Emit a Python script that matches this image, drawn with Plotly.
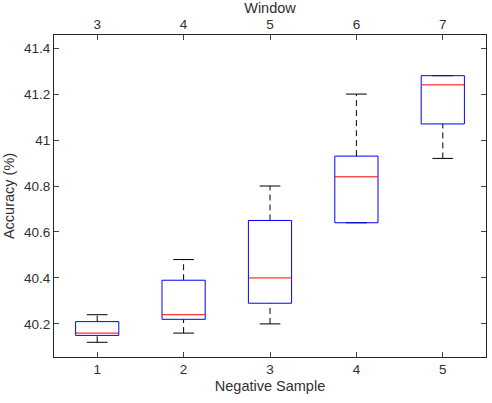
import plotly.graph_objects as go

negative_sample = [1, 2, 3, 4, 5]
window = [3, 4, 5, 6, 7]
lower_whisker = [40.12, 40.16, 40.20, 40.64, 40.92]
q1 = [40.15, 40.22, 40.29, 40.64, 41.07]
median = [40.16, 40.24, 40.40, 40.84, 41.24]
q3 = [40.21, 40.39, 40.65, 40.93, 41.28]
upper_whisker = [40.24, 40.48, 40.80, 41.20, 41.28]
y_ticks = [40.2, 40.4, 40.6, 40.8, 41, 41.2, 41.4]

half_box = 0.25
half_cap = 0.12

fig = go.Figure()

for i, x in enumerate(negative_sample):
    # whiskers (dashed)
    for a, b in [(q3[i], upper_whisker[i]), (lower_whisker[i], q1[i])]:
        if b > a:
            fig.add_trace(go.Scatter(x=[x, x], y=[a, b], mode="lines",
                                     line=dict(color="black", width=1, dash="6px,4px"),
                                     hoverinfo="skip", showlegend=False))
    # caps
    for v in [upper_whisker[i], lower_whisker[i]]:
        fig.add_trace(go.Scatter(x=[x - half_cap, x + half_cap], y=[v, v], mode="lines",
                                 line=dict(color="black", width=1),
                                 hoverinfo="skip", showlegend=False))
    # box
    fig.add_trace(go.Scatter(
        x=[x - half_box, x + half_box, x + half_box, x - half_box, x - half_box],
        y=[q1[i], q1[i], q3[i], q3[i], q1[i]], mode="lines",
        line=dict(color="#0000ff", width=1), hoverinfo="skip", showlegend=False))
    # median
    fig.add_trace(go.Scatter(x=[x - half_box, x + half_box], y=[median[i], median[i]],
                             mode="lines", line=dict(color="#ff0000", width=1),
                             hoverinfo="skip", showlegend=False))

# invisible trace to bind the top axis
fig.add_trace(go.Scatter(x=window, y=median, xaxis="x2", mode="markers",
                         marker=dict(opacity=0), hoverinfo="skip", showlegend=False))

font = dict(family="Liberation Sans, Arial, sans-serif", size=13.5, color="#303030")
title_font = dict(size=14.5)

fig.update_layout(
    width=492, height=403,
    margin=dict(l=54, r=6, t=35, b=46),
    paper_bgcolor="white", plot_bgcolor="white",
    font=font,
    xaxis=dict(range=[0.5, 5.5], tickvals=negative_sample, ticks="inside", ticklen=5,
               showline=True, linecolor="#262626", linewidth=1, showgrid=False,
               zeroline=False, automargin=False,
               title=dict(text="Negative Sample", font=title_font, standoff=4)),
    xaxis2=dict(range=[2.5, 7.5], tickvals=window, overlaying="x", side="top",
                ticks="inside", ticklen=5, showline=True, linecolor="#262626",
                linewidth=1, showgrid=False, zeroline=False, automargin=False,
                title=dict(text="Window", font=title_font, standoff=3)),
    yaxis=dict(range=[40.056, 41.457], tickvals=y_ticks, ticks="inside", ticklen=5,
               showline=True, mirror="ticks", linecolor="#262626", linewidth=1,
               showgrid=False, zeroline=False, automargin=False,
               title=dict(text="Accuracy (%)", font=title_font, standoff=5)),
)

fig.write_html("out.html", config={"displayModeBar": False},
               post_script="document.body.style.margin='0';document.body.style.overflow='hidden';")
